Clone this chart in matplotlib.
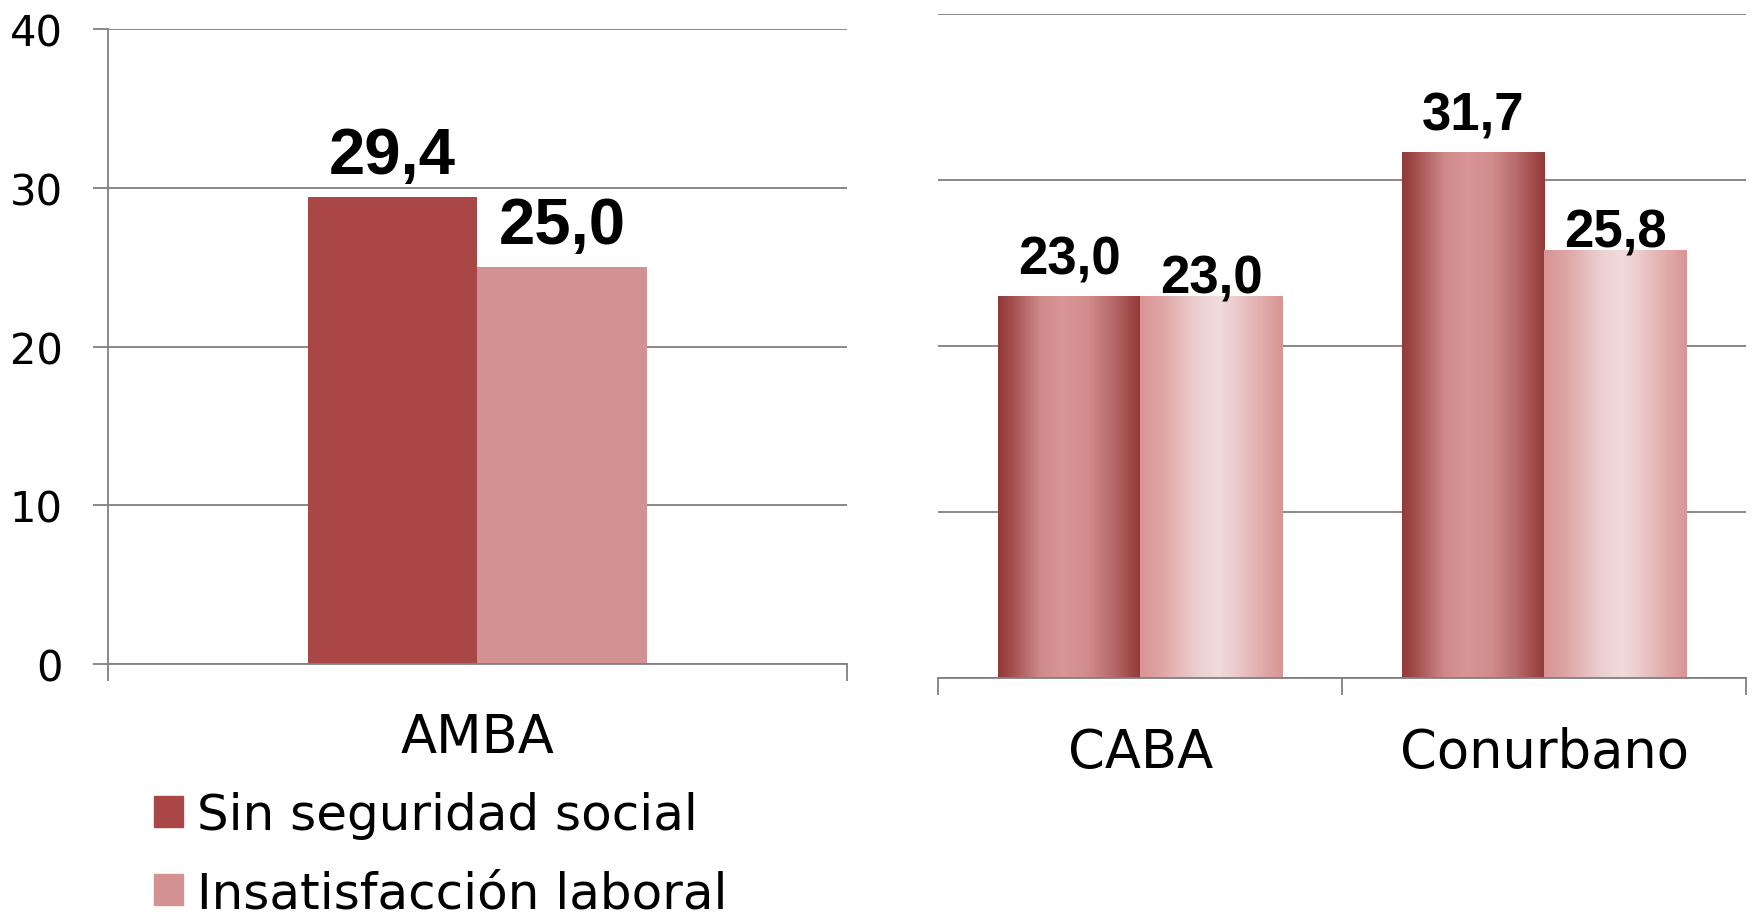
import numpy as np
import matplotlib
matplotlib.use('Agg')
import matplotlib.pyplot as plt
from matplotlib.colors import LinearSegmentedColormap
from matplotlib.patches import Patch

# data
series = ['Sin seguridad social', 'Insatisfacción laboral']
amba_cats = ['AMBA']
amba_sin = [29.4]
amba_insat = [25.0]
reg_cats = ['CABA', 'Conurbano']
reg_sin = [23.0, 31.7]
reg_insat = [23.0, 25.8]
yticks = [0, 10, 20, 30, 40]

DARK = '#a84745'
LIGHT = '#d39191'
GRID = '#808080'

dark_grad = LinearSegmentedColormap.from_list('dk', [
    (0.0, '#933939'), (0.08, '#a04a4a'), (0.3, '#cf8a8a'), (0.45, '#d99696'),
    (0.62, '#d28d8d'), (0.8, '#b86c6c'), (0.93, '#a04848'), (1.0, '#933939')])
light_grad = LinearSegmentedColormap.from_list('lt', [
    (0.0, '#d99494'), (0.15, '#dfa4a4'), (0.4, '#ecd0d0'), (0.55, '#f1dbdb'),
    (0.7, '#eac6c6'), (0.87, '#e0a9a9'), (1.0, '#d99494')])


def fmt(v):
    return f'{v:.1f}'.replace('.', ',')


def shade(ax, bars, cmap):
    grad = cmap(np.linspace(0, 1, 256))[None, :, :]
    for b in bars:
        x0, y0 = b.get_x(), b.get_y()
        im = ax.imshow(grad, extent=(x0, x0 + b.get_width(), y0, y0 + b.get_height()),
                       aspect='auto', interpolation='bilinear', zorder=2.5)
        im.set_clip_path(b)


def label(ax, bars, vals, off, size):
    for b, v in zip(bars, vals):
        ax.annotate(fmt(v), (b.get_x() + b.get_width() / 2, b.get_height()),
                    xytext=(0, off), textcoords='offset points', ha='center',
                    va='baseline', fontsize=size, fontweight='bold',
                    family='Liberation Sans', color='black', zorder=5)


def style(ax, cats):
    n = len(cats)
    ax.set_xlim(-0.5, n - 0.5)
    ax.set_ylim(0, 40)
    ax.set_yticks(yticks)
    ax.grid(axis='y', color=GRID, lw=1.3)
    ax.set_axisbelow(True)
    for s in ['top', 'right']:
        ax.spines[s].set_visible(False)
    for s in ['left', 'bottom']:
        ax.spines[s].set_color(GRID)
        ax.spines[s].set_linewidth(1.3)
    ax.set_xticks(np.arange(n + 1) - 0.5)
    ax.set_xticklabels([])
    ax.set_xticks(np.arange(n), minor=True)
    ax.set_xticklabels(cats, minor=True)
    ax.tick_params(axis='x', which='major', length=12, width=1.3, color=GRID)
    ax.tick_params(axis='x', which='minor', length=0, pad=34, labelsize=38)
    ax.tick_params(axis='y', length=10.8, width=1.3, color=GRID, pad=22, labelsize=30)


fig = plt.figure(figsize=(17.54, 9.2), dpi=100)

# AMBA panel
ax1 = fig.add_axes([0.06174, 0.27717, 0.42098, 0.69022])
w1 = 0.23
x1 = np.arange(len(amba_cats))
b1 = ax1.bar(x1 - w1 / 2, amba_sin, w1, color=DARK, zorder=2)
b2 = ax1.bar(x1 + w1 / 2, amba_insat, w1, color=LIGHT, zorder=2)
label(ax1, b1, amba_sin, 17.6, 47)
label(ax1, b2, amba_insat, 17.6, 47)
style(ax1, amba_cats)

# CABA / Conurbano panel
ax2 = fig.add_axes([0.53495, 0.26163, 0.46049, 0.72174])
w2 = 0.353
x2 = np.arange(len(reg_cats))
c1 = ax2.bar(x2 - w2 / 2, reg_sin, w2, color=DARK, zorder=2)
c2 = ax2.bar(x2 + w2 / 2, reg_insat, w2, color=LIGHT, zorder=2)
shade(ax2, c1, dark_grad)
shade(ax2, c2, light_grad)
label(ax2, c1, reg_sin, 16.5, 38)
label(ax2, c2, reg_insat, 2.7, 38)
style(ax2, reg_cats)
ax2.spines['left'].set_visible(False)
ax2.tick_params(axis='y', left=False, labelleft=False)

handles = [Patch(color=DARK), Patch(color=LIGHT)]
fig.legend(handles, series, loc='upper left', bbox_to_anchor=(0.0878, 0.139),
           frameon=False, fontsize=36, handlelength=0.57, handleheight=0.57,
           handletextpad=0.28, labelspacing=0.6, borderpad=0, borderaxespad=0)

fig.savefig('out.png', dpi=100)
